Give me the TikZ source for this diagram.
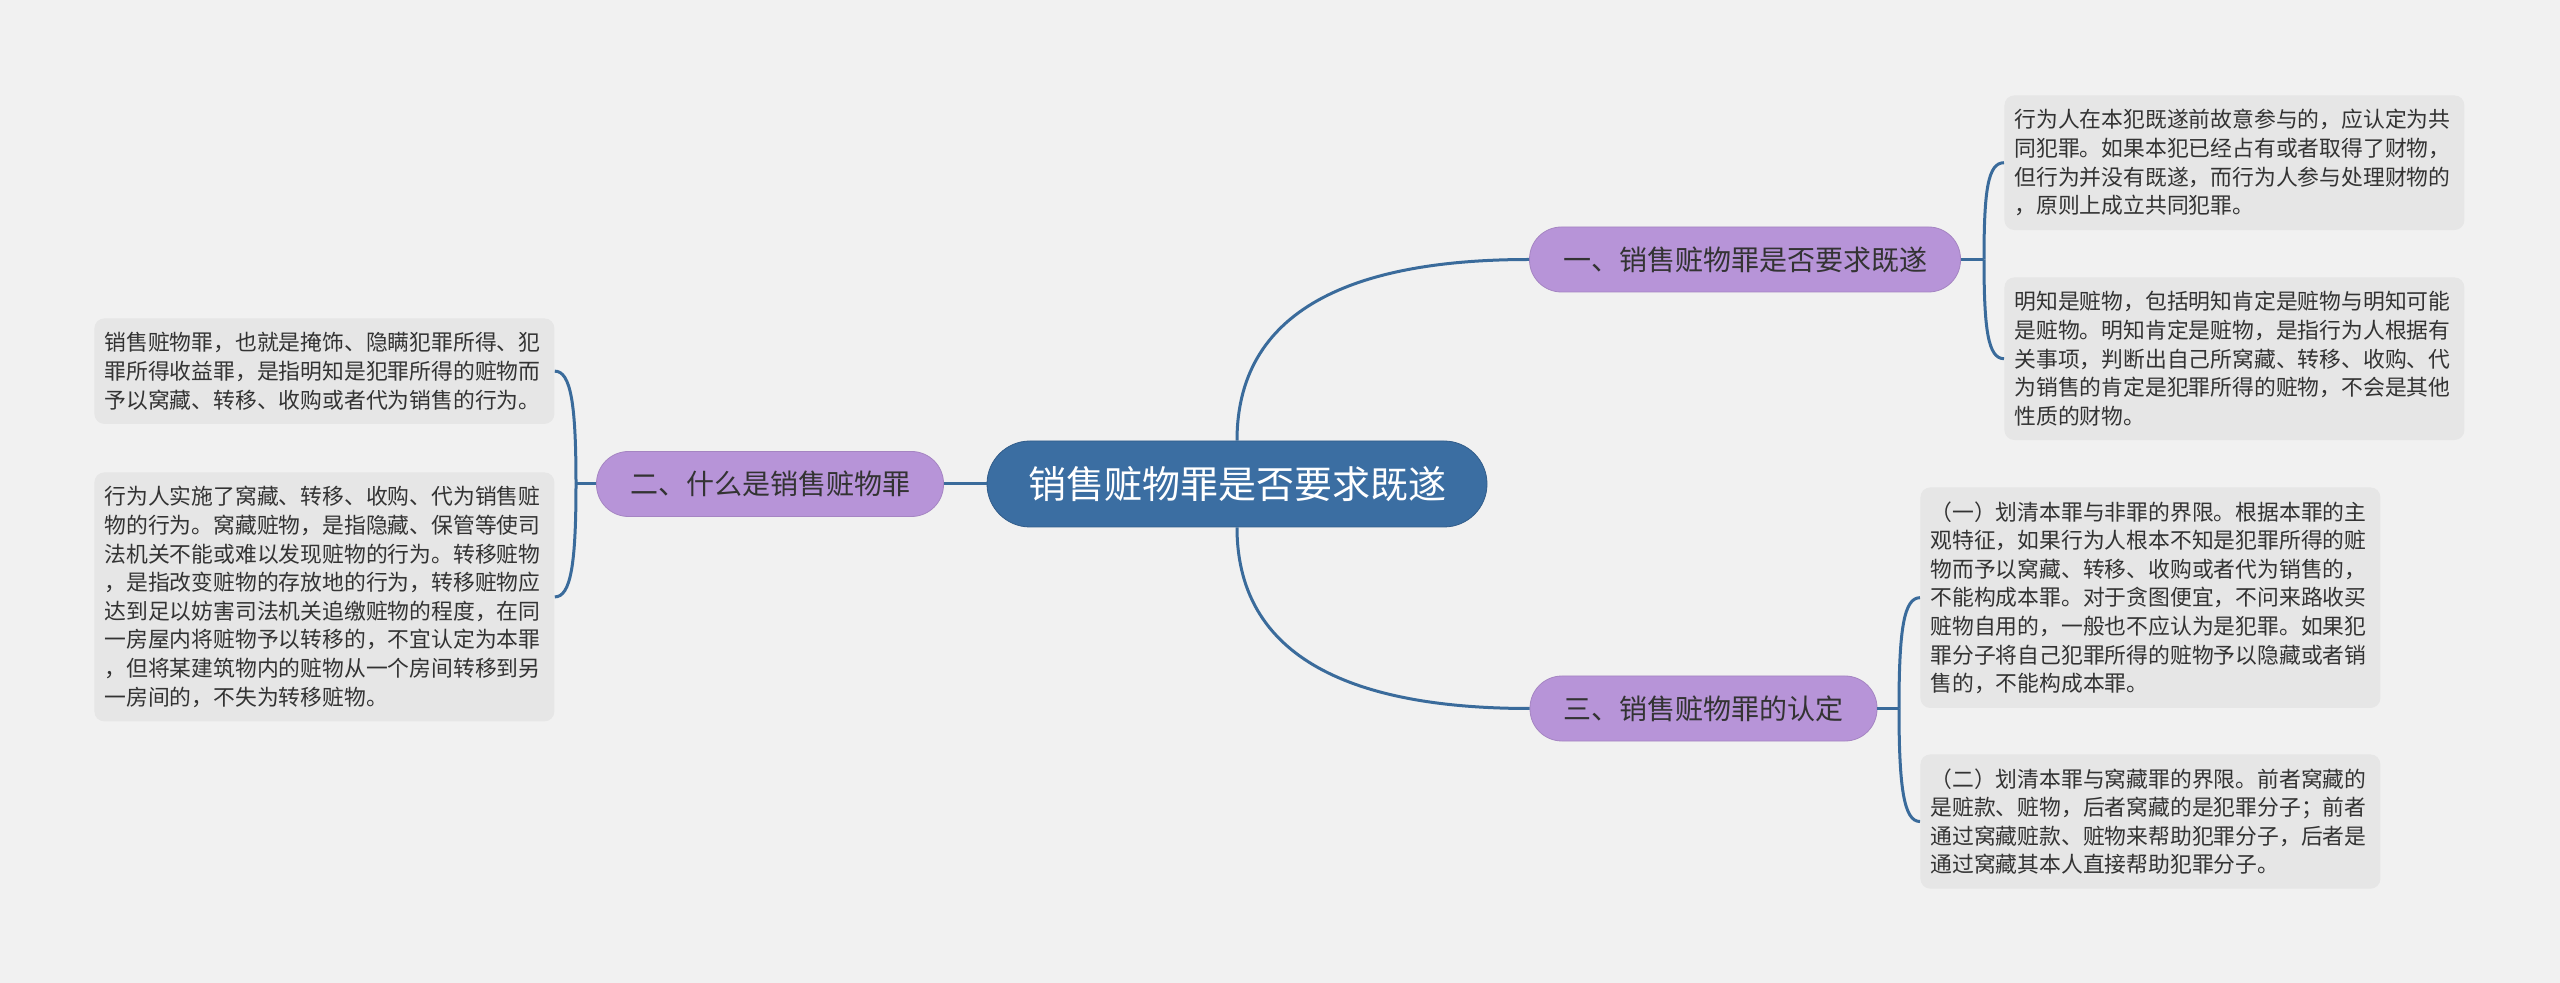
\documentclass[tikz,border=0pt]{standalone}
\usepackage{fontspec}
\setmainfont{Noto Sans CJK SC}
\definecolor{bgcol}{HTML}{F1F1F1}
\definecolor{leafcol}{HTML}{E6E6E6}
\definecolor{rootcol}{HTML}{3B6EA2}
\definecolor{subcol}{HTML}{B794D8}
\definecolor{linkcol}{HTML}{3A6B9B}
\definecolor{txtcol}{HTML}{333333}
\begin{document}
\begin{tikzpicture}[x=0.5pt,y=-0.5pt,
  root/.style={fill=rootcol, draw=rootcol!85!black, rounded corners=21.5pt,
    minimum width=250pt, minimum height=43pt, text=white,
    font=\fontsize{19}{22}\selectfont},
  sub/.style={fill=subcol, draw=subcol!90!black, rounded corners=16pt,
    minimum height=32.5pt, text=txtcol, font=\fontsize{14}{16}\selectfont},
  leaf/.style={fill=leafcol, rounded corners=5pt, text=txtcol, align=left,
    text width=220pt, inner xsep=5pt, inner ysep=7pt,
    font=\fontsize{10.9}{14.3}\selectfont},
  link/.style={draw=linkcol, line width=1.5pt}]
\path[use as bounding box, fill=bgcol] (0,0) rectangle (2560,983);
% centre and the three branches
\node[root] (c) at (1237,484) {销售赃物罪是否要求既遂};
\node[sub, minimum width=215.5pt] (b1) at (1745,259.5) {一、销售赃物罪是否要求既遂};
\node[sub, minimum width=173.5pt] (b2) at (770,484) {二、什么是销售赃物罪};
\node[sub, minimum width=173.5pt] (b3) at (1703.5,708.5) {三、销售赃物罪的认定};
% leaves
\node[leaf, anchor=north west] (r1) at (2004,95) {行为人在本犯既遂前故意参与的，应认定为共\\
同犯罪。如果本犯已经占有或者取得了财物，\\
但行为并没有既遂，而行为人参与处理财物的\\
，原则上成立共同犯罪。};
\node[leaf, anchor=north west] (r2) at (2004,277) {明知是赃物，包括明知肯定是赃物与明知可能\\
是赃物。明知肯定是赃物，是指行为人根据有\\
关事项，判断出自己所窝藏、转移、收购、代\\
为销售的肯定是犯罪所得的赃物，不会是其他\\
性质的财物。};
\node[leaf, anchor=north west] (r3) at (1920,487) {（一）划清本罪与非罪的界限。根据本罪的主\\
观特征，如果行为人根本不知是犯罪所得的赃\\
物而予以窝藏、转移、收购或者代为销售的，\\
不能构成本罪。对于贪图便宜，不问来路收买\\
赃物自用的，一般也不应认为是犯罪。如果犯\\
罪分子将自己犯罪所得的赃物予以隐藏或者销\\
售的，不能构成本罪。};
\node[leaf, anchor=north west] (r4) at (1920,754) {（二）划清本罪与窝藏罪的界限。前者窝藏的\\
是赃款、赃物，后者窝藏的是犯罪分子；前者\\
通过窝藏赃款、赃物来帮助犯罪分子，后者是\\
通过窝藏其本人直接帮助犯罪分子。};
\node[leaf, anchor=north west] (l1) at (94,318) {销售赃物罪，也就是掩饰、隐瞒犯罪所得、犯\\
罪所得收益罪，是指明知是犯罪所得的赃物而\\
予以窝藏、转移、收购或者代为销售的行为。};
\node[leaf, anchor=north west] (l2) at (94,472) {行为人实施了窝藏、转移、收购、代为销售赃\\
物的行为。窝藏赃物，是指隐藏、保管等使司\\
法机关不能或难以发现赃物的行为。转移赃物\\
，是指改变赃物的存放地的行为，转移赃物应\\
达到足以妨害司法机关追缴赃物的程度，在同\\
一房屋内将赃物予以转移的，不宜认定为本罪\\
，但将某建筑物内的赃物从一个房间转移到另\\
一房间的，不失为转移赃物。};
% connectors
\draw[link] (c.north) .. controls +(0,-140) and +(-160,0) .. (b1.west);
\draw[link] (c.south) .. controls +(0,140) and +(-160,0) .. (b3.west);
\draw[link] (c.west) -- (b2.east);
\coordinate (j1) at (1984,259.5);
\coordinate (j2) at (576,484);
\coordinate (j3) at (1899,708.5);
\draw[link] (b1.east) -- (j1);
\draw[link] (j1) .. controls +(0,-70) and +(-16,0) .. (r1.west);
\draw[link] (j1) .. controls +(0,70) and +(-16,0) .. (r2.west);
\draw[link] (b2.west) -- (j2);
\draw[link] (j2) .. controls +(0,-80) and +(16,0) .. (l1.east);
\draw[link] (j2) .. controls +(0,80) and +(16,0) .. (l2.east);
\draw[link] (b3.east) -- (j3);
\draw[link] (j3) .. controls +(0,-80) and +(-16,0) .. (r3.west);
\draw[link] (j3) .. controls +(0,80) and +(-16,0) .. (r4.west);
\end{tikzpicture}
\end{document}
